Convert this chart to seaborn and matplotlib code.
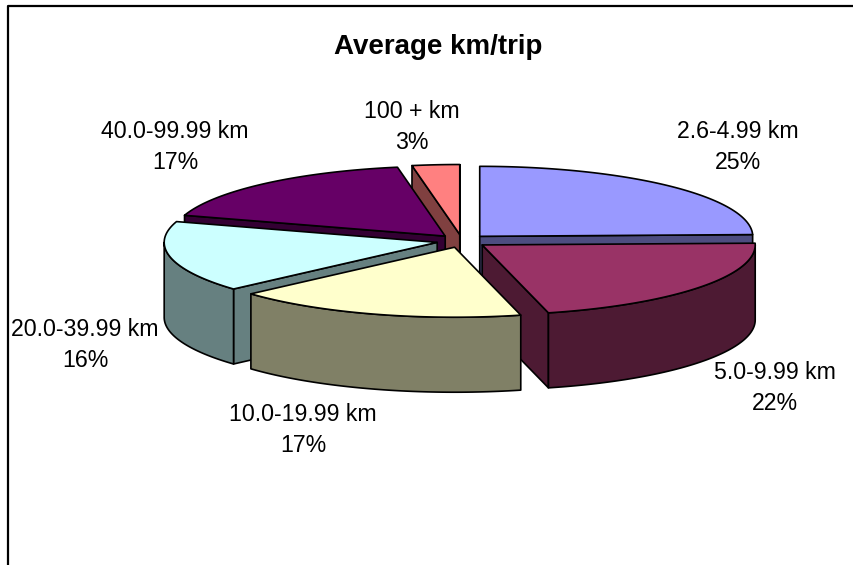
import numpy as np
import matplotlib
matplotlib.use("Agg")
import matplotlib.pyplot as plt
import seaborn as sns

# Dados
categorias = ['2.6-4.99 km', '5.0-9.99 km', '10.0-19.99 km', '20.0-39.99 km', '40.0-99.99 km', '100 + km']
valores = [24.6, 21.5, 17.3, 16.4, 17.4, 2.8]
cores_topo = ['#9999FF', '#993366', '#FFFFCC', '#CCFFFF', '#660066', '#FF8080']
cores_lado = ['#4D4D80', '#4D1A33', '#808066', '#668080', '#330033', '#804040']
titulo = 'Average km/trip'

# Geometria da pizza em pixels
cx, cy = 462, 241
rx, ry = 273, 70
profundidade = 75
explode = 0.093

# Ordem de desenho, de tras para frente
ordem = [5, 4, 0, 3, 1, 2]

# Posicao dos rotulos (centro do texto)
pos_rotulos = [(738, 147), (775, 388), (303, 430), (85, 345), (175, 147), (412, 127)]

sns.set_style("white")
plt.rcParams['font.family'] = ['Liberation Sans', 'DejaVu Sans']

fig = plt.figure(figsize=(8.54, 5.65), dpi=100)
ax = fig.add_axes([0, 0, 1, 1])
ax.set_xlim(0, 854)
ax.set_ylim(565, 0)
ax.axis('off')

# Moldura do grafico: so esquerda e topo aparecem no recorte
ax.plot([8, 8, 854], [565, 5.5, 5.5], color='black', lw=1.6, solid_capstyle='butt')

angulos = np.cumsum([0] + valores) / sum(valores) * 2 * np.pi


def ponto(x0, y0, ang):
    return x0 + rx * np.sin(ang), y0 - ry * np.cos(ang)


for i in ordem:
    a0, a1 = angulos[i], angulos[i + 1]
    meio = (a0 + a1) / 2
    x0 = cx + explode * rx * np.sin(meio)
    y0 = cy - explode * ry * np.cos(meio)

    arco = np.linspace(a0, a1, 80)
    tx_, ty_ = ponto(x0, y0, arco)

    # Faces radiais, so as voltadas para a frente
    faces = []
    if np.sin(a0) < 0:
        faces.append(a0)
    if np.sin(a1) > 0:
        faces.append(a1)
    for a in faces:
        px, py = ponto(x0, y0, a)
        ax.fill([x0, px, px, x0], [y0, py, py + profundidade, y0 + profundidade],
                facecolor=cores_lado[i], edgecolor='black', lw=1.2, joinstyle='round')

    # Parede externa, so a metade da frente aparece
    f0, f1 = max(a0, np.pi / 2), min(a1, 3 * np.pi / 2)
    if f1 > f0:
        frente = np.linspace(f0, f1, 80)
        wx, wy = ponto(x0, y0, frente)
        ax.fill(np.r_[wx, wx[::-1]], np.r_[wy, wy[::-1] + profundidade],
                facecolor=cores_lado[i], edgecolor='black', lw=1.2, joinstyle='round')

    # Tampa
    ax.fill(np.r_[x0, tx_], np.r_[y0, ty_],
            facecolor=cores_topo[i], edgecolor='black', lw=1.2, joinstyle='round')

ax.text(438.5, 47, titulo, ha='center', va='center', fontsize=20, fontweight='bold', color='black')

for nome, valor, (tx, ty) in zip(categorias, valores, pos_rotulos):
    ax.text(tx, ty, f"{nome}\n{round(valor)}%", ha='center', va='center',
            fontsize=16.7, color='black', linespacing=1.4)

fig.savefig("out.png", dpi=100)
